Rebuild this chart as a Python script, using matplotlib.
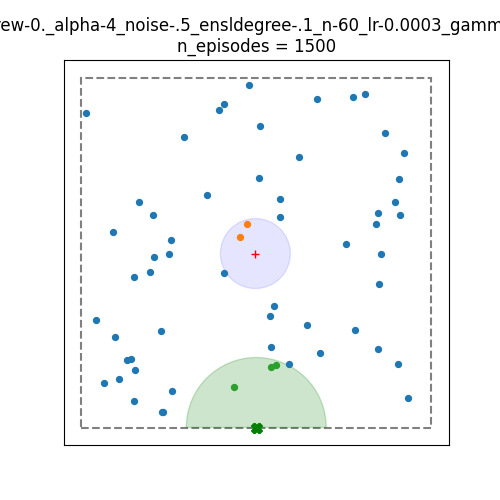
import numpy as np
import matplotlib.pyplot as plt
from matplotlib.patches import Circle, Wedge, Rectangle

title_params = "coll_rew-0._alpha-4_noise-.5_ensldegree-.1_n-60_lr-0.0003_gamma-0.99"
n_episodes = 1500

# agents far from the goal
blue_x = [-0.040, -0.971, -0.186, -0.214, 0.023, -0.414, 0.017, -0.279, -0.670, -0.590,
          -0.817, -0.487, -0.499, 0.349, 0.553, 0.622, 0.736, 0.246, 0.844, 0.815,
          0.133, 0.792, 0.696, 0.821, 0.133, 0.684, 0.514, 0.713, -0.584, -0.607,
          -0.698, -0.186, -0.914, -0.544, -0.806, -0.738, -0.717, -0.692, -0.783, -0.869,
          -0.482, -0.698, -0.536, -0.531, 0.701, 0.104, 0.081, 0.292, 0.565, 0.087,
          0.366, 0.696, 0.189, 0.809, 0.866]
blue_y = [0.958, 0.799, 0.850, 0.816, 0.725, 0.662, 0.423, 0.327, 0.287, 0.213,
          0.118, 0.071, -0.009, 0.878, 0.890, 0.907, 0.685, 0.543, 0.571, 0.418,
          0.304, 0.287, 0.224, 0.213, 0.201, 0.162, 0.048, -0.009, -0.026, -0.111,
          -0.140, -0.117, -0.385, -0.447, -0.481, -0.612, -0.606, -0.669, -0.720, -0.743,
          -0.794, -0.851, -0.914, -0.914, -0.180, -0.305, -0.362, -0.413, -0.441, -0.538,
          -0.572, -0.549, -0.635, -0.635, -0.834]

# agents inside the goal circle
orange_x = [-0.055, -0.095]
orange_y = [0.162, 0.088]

# agents inside the home zone
green_x = [-0.125, 0.087, 0.110]
green_y = [-0.766, -0.656, -0.643]

goal = (-0.005, -0.006)
goal_r = 0.2
home = (0.0, -1.0)
home_r = 0.4
home_marks_x = [-0.004, 0.004]
home_marks_y = [-1.0, -1.0]

fig, ax = plt.subplots(figsize=(5, 5), dpi=100)

ax.add_patch(Rectangle((-1, -1), 2, 2, fill=False, ls="--", lw=1.5, ec="gray"))
ax.add_patch(Circle(goal, goal_r, color="b", alpha=0.1))
ax.add_patch(Wedge(home, home_r, 0, 180, color="g", alpha=0.2))

ax.scatter(blue_x, blue_y, s=18)
ax.scatter(orange_x, orange_y, s=18)
ax.scatter(green_x, green_y, s=18)
ax.plot(*goal, "r+")
ax.scatter(home_marks_x, home_marks_y, marker="X", c="g", s=50)

ax.set_xlim(-1.1, 1.1)
ax.set_ylim(-1.1, 1.1)
ax.set_aspect("equal")
ax.set_xticks([])
ax.set_yticks([])
ax.set_title(f"{title_params}\nn_episodes = {n_episodes}")

fig.savefig("out.png")
